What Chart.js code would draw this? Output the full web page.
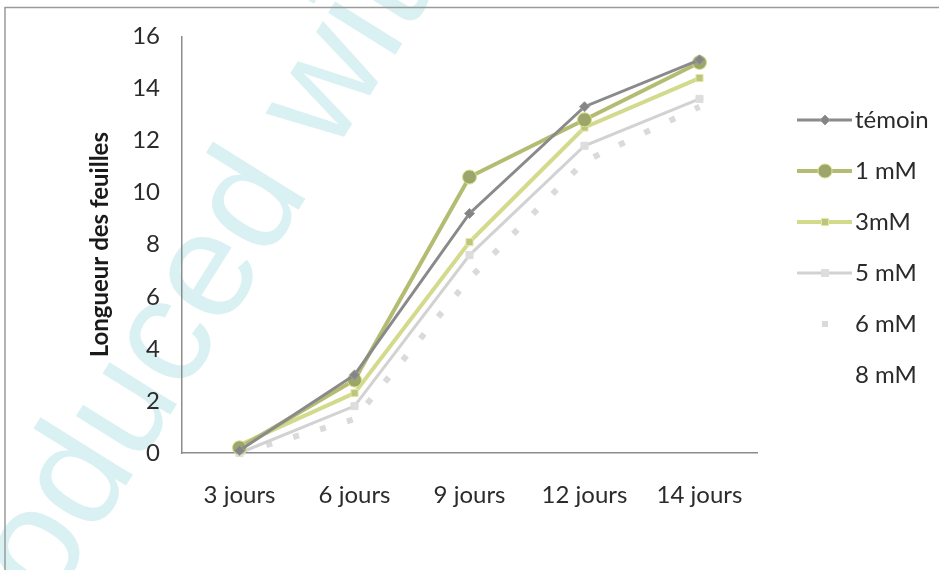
<!DOCTYPE html>
<html>
<head>
<meta charset="utf-8">
<script src="https://cdn.jsdelivr.net/npm/chart.js@4.4.1/dist/chart.umd.min.js"></script>
<style>
  html, body { margin: 0; padding: 0; background: #fff; }
  canvas { display: block; }
</style>
</head>
<body>
<canvas id="c" width="939" height="570"></canvas>
<script>
// Leaf length by day for each treatment
const jours = ['3 jours', '6 jours', '9 jours', '12 jours', '14 jours'];
const temoin = [0.1, 3.0, 9.2, 13.3, 15.1];
const mM1 = [0.2, 2.8, 10.6, 12.8, 15.0];
const mM3 = [0.3, 2.3, 8.1, 12.5, 14.4];
const mM5 = [0.0, 1.8, 7.6, 11.8, 13.6];
const mM6 = [0.0, 1.3, 6.7, 11.2, 13.3];
const mM8 = [0.0, 1.2, 6.5, 11.0, 13.0];
const serieNames = ['témoin', '1 mM', '3mM', '5 mM', '6 mM', '8 mM'];
const yMin = 0, yMax = 16, yStep = 2;
const axisTitle = 'Longueur des feuilles';
const watermark = 'Reproduced with permission of the copyright owner.';

const FONT = 'Lato, "Open Sans", sans-serif';

// Faint diagonal watermark and white page behind the plot
const backdrop = {
  id: 'backdrop',
  beforeDraw(chart) {
    const ctx = chart.ctx;
    ctx.save();
    ctx.fillStyle = '#ffffff';
    ctx.fillRect(0, 0, chart.width, chart.height);
    ctx.font = '150px "Liberation Sans", Arial, sans-serif';
    ctx.fillStyle = '#daf1f4';
    ctx.textBaseline = 'alphabetic';
    const lead = ctx.measureText('Reproduc').width;
    ctx.translate(222, 332);
    ctx.rotate(-58 * Math.PI / 180);
    ctx.fillText(watermark, -lead, 0);
    ctx.restore();
  }
};

// Frame lines and the legend column on the right
const sideLegend = {
  id: 'sideLegend',
  afterDraw(chart) {
    const ctx = chart.ctx;
    ctx.save();
    ctx.strokeStyle = '#9a9a9a';
    ctx.lineWidth = 1.5;
    ctx.beginPath();
    ctx.moveTo(5, 570);
    ctx.lineTo(5, 7.5);
    ctx.lineTo(939, 7.5);
    ctx.stroke();

    const x0 = 797, x1 = 852, xm = 825;
    chart.data.datasets.forEach((ds, i) => {
      const y = 120 + i * 51;
      if (ds.borderDash && ds.borderDash.length) {
        ctx.fillStyle = ds.borderColor;
        ctx.fillRect(xm - 3, y - 3, 6, 6);
      } else if (ds.borderWidth) {
        ctx.strokeStyle = ds.borderColor;
        ctx.lineWidth = ds.borderWidth;
        ctx.beginPath();
        ctx.moveTo(x0, y);
        ctx.lineTo(x1, y);
        ctx.stroke();
      }
      if (ds.pointRadius > 0) {
        ctx.fillStyle = ds.pointBackgroundColor;
        ctx.strokeStyle = ds.pointBorderColor;
        ctx.lineWidth = ds.pointBorderWidth;
        Chart.helpers.drawPoint(ctx, {
          pointStyle: ds.pointStyle,
          radius: ds.pointRadius,
          borderWidth: ds.pointBorderWidth,
          rotation: 0
        }, xm, y);
      }
      ctx.fillStyle = '#2b2b2b';
      ctx.font = '24px ' + FONT;
      ctx.textBaseline = 'middle';
      ctx.textAlign = 'left';
      ctx.fillText(ds.label, 855, y);
    });
    ctx.restore();
  }
};

const styles = [
  { borderColor: '#8a8a8a', borderWidth: 3, pointStyle: 'rectRot', pointRadius: 5, pointBackgroundColor: '#858585', pointBorderColor: '#9a9a9a' },
  { borderColor: '#b4bc72', borderWidth: 4, pointStyle: 'circle', pointRadius: 7, pointBackgroundColor: '#9da66a', pointBorderColor: '#d9e08e' },
  { borderColor: '#d3da8c', borderWidth: 4, pointStyle: 'rect', pointRadius: 5, pointBackgroundColor: '#bcc47f', pointBorderColor: '#e2e8a2' },
  { borderColor: '#d2d2d2', borderWidth: 3, pointStyle: 'rect', pointRadius: 5, pointBackgroundColor: '#dddddd', pointBorderColor: '#dddddd' },
  { borderColor: '#dadada', borderWidth: 6, pointStyle: 'rect', pointRadius: 0, pointBackgroundColor: '#dadada', pointBorderColor: '#dadada', borderDash: [6, 22] },
  { borderColor: 'rgba(0,0,0,0)', borderWidth: 0, pointStyle: 'rect', pointRadius: 0, pointBackgroundColor: 'rgba(0,0,0,0)', pointBorderColor: 'rgba(0,0,0,0)' }
];

const seriesData = [temoin, mM1, mM3, mM5, mM6, mM8];

const datasets = seriesData.map((values, i) => Object.assign({
  label: serieNames[i],
  data: values,
  pointBorderWidth: 1,
  tension: 0,
  fill: false,
  clip: false
}, styles[i]));

new Chart(document.getElementById('c'), {
  type: 'line',
  data: { labels: jours, datasets },
  plugins: [backdrop, sideLegend],
  options: {
    responsive: false,
    animation: false,
    devicePixelRatio: 1,
    layout: { padding: { left: 82, right: 182, top: 33, bottom: 0 } },
    plugins: { legend: { display: false }, tooltip: { enabled: false } },
    scales: {
      x: {
        type: 'category',
        offset: true,
        grid: { display: false, drawTicks: false },
        border: { display: true, color: '#8c8c8c', width: 1.5 },
        ticks: { color: '#2b2b2b', font: { family: FONT, size: 24 }, padding: 28, maxRotation: 0, autoSkip: false },
        afterFit(scale) { scale.height = 117; }
      },
      y: {
        min: yMin,
        max: yMax,
        grid: { display: false, drawTicks: false },
        border: { display: true, color: '#8c8c8c', width: 1.5 },
        ticks: { stepSize: yStep, color: '#2b2b2b', font: { family: FONT, size: 24 }, padding: 22 },
        title: { display: true, text: axisTitle, color: '#1a1a1a', font: { family: FONT, size: 24, weight: 'bold' }, padding: { top: 4, bottom: 4 } },
        afterFit(scale) { scale.width = 100; }
      }
    }
  }
});
</script>
</body>
</html>
